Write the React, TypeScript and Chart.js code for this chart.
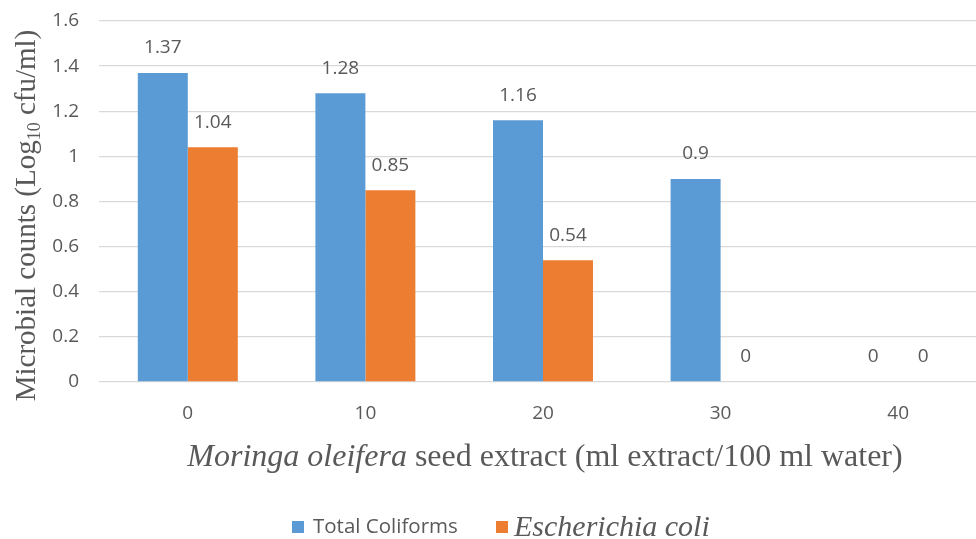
import React, { useEffect, useRef } from "react";
import { Chart, registerables } from "chart.js";

Chart.register(...registerables);

const categories = ["0", "10", "20", "30", "40"];
const totalColiforms = [1.37, 1.28, 1.16, 0.9, 0];
const eColi = [1.04, 0.85, 0.54, 0, 0];
const yTicks = [0, 0.2, 0.4, 0.6, 0.8, 1, 1.2, 1.4, 1.6];

const BLUE = "#5b9bd5";
const ORANGE = "#ed7d31";
const TEXT = "#595959";
const SANS = "'Open Sans', 'Liberation Sans', sans-serif";
const SERIF = "'Liberation Serif', 'DejaVu Serif', serif";

const textPlugin = {
  id: "customText",
  afterDatasetsDraw(chart: any) {
    const ctx = chart.ctx;
    ctx.save();
    ctx.fillStyle = TEXT;
    ctx.font = `19px ${SANS}`;
    ctx.textAlign = "center";
    ctx.textBaseline = "middle";
    chart.data.datasets.forEach((ds: any, di: number) => {
      const meta = chart.getDatasetMeta(di);
      meta.data.forEach((bar: any, i: number) => {
        const v = ds.data[i];
        ctx.fillText(String(v), bar.x, bar.y - 25);
      });
    });
    ctx.restore();
  },
  afterDraw(chart: any) {
    const ctx = chart.ctx;
    const area = chart.chartArea;
    // Y title with subscript
    ctx.save();
    ctx.fillStyle = TEXT;
    ctx.textBaseline = "alphabetic";
    ctx.textAlign = "left";
    const yMain = `29px ${SERIF}`;
    const ySub = `18px ${SERIF}`;
    const p1 = "Microbial counts (Log";
    const p2 = "10";
    const p3 = " cfu/ml)";
    ctx.font = yMain;
    const w1 = ctx.measureText(p1).width;
    const w3 = ctx.measureText(p3).width;
    ctx.font = ySub;
    const w2 = ctx.measureText(p2).width;
    const total = w1 + w2 + w3;
    ctx.translate(35, (area.top + area.bottom) / 2 + 14);
    ctx.rotate(-Math.PI / 2);
    let x = -total / 2;
    ctx.font = yMain;
    ctx.fillText(p1, x, 0);
    x += w1;
    ctx.font = ySub;
    ctx.fillText(p2, x, 5);
    x += w2;
    ctx.font = yMain;
    ctx.fillText(p3, x, 0);
    ctx.restore();

    // X title mixed italic
    ctx.save();
    ctx.fillStyle = TEXT;
    ctx.textBaseline = "alphabetic";
    ctx.textAlign = "left";
    const xi = `italic 32px ${SERIF}`;
    const xn = `32px ${SERIF}`;
    const a = "Moringa oleifera";
    const b = " seed extract (ml extract/100 ml water)";
    ctx.font = xi;
    const wa = ctx.measureText(a).width;
    ctx.font = xn;
    const wb = ctx.measureText(b).width;
    const sx = 545 - (wa + wb) / 2;
    ctx.font = xi;
    ctx.fillText(a, sx, 466);
    ctx.font = xn;
    ctx.fillText(b, sx + wa, 466);
    ctx.restore();

    // Legend
    ctx.save();
    ctx.textBaseline = "middle";
    ctx.textAlign = "left";
    const ly = 527;
    ctx.fillStyle = BLUE;
    ctx.fillRect(292, ly - 6, 12, 12);
    ctx.fillStyle = TEXT;
    ctx.font = `20.5px ${SANS}`;
    ctx.fillText("Total Coliforms", 313, ly);
    ctx.fillStyle = ORANGE;
    ctx.fillRect(496, ly - 6, 12, 12);
    ctx.fillStyle = TEXT;
    ctx.font = `italic 30px ${SERIF}`;
    ctx.fillText("Escherichia coli", 514, ly + 1);
    ctx.restore();
  },
};

export default function App() {
  const ref = useRef<HTMLCanvasElement>(null);
  useEffect(() => {
    const chart = new Chart(ref.current!, {
      type: "bar",
      data: {
        labels: categories,
        datasets: [
          { label: "Total Coliforms", data: totalColiforms, backgroundColor: BLUE, categoryPercentage: 0.563, barPercentage: 1 },
          { label: "Escherichia coli", data: eColi, backgroundColor: ORANGE, categoryPercentage: 0.563, barPercentage: 1 },
        ],
      },
      options: {
        animation: false,
        responsive: false,
        devicePixelRatio: 1,
        layout: { padding: { top: 21, right: 1, left: 0, bottom: 0 } },
        plugins: { legend: { display: false }, tooltip: { enabled: false } },
        scales: {
          x: {
            grid: { display: false, drawTicks: false },
            border: { display: false },
            ticks: { color: TEXT, font: { size: 19, family: SANS }, padding: 20 },
            afterFit: (s: any) => {
              s.height = 157;
              s.paddingLeft = 0;
              s.paddingRight = 0;
              s.paddingTop = 0;
              s.paddingBottom = 0;
            },
          },
          y: {
            min: 0,
            max: 1.6,
            afterBuildTicks: (s: any) => { s.ticks = yTicks.map((v) => ({ value: v })); },
            grid: { color: "#d9d9d9", drawTicks: false, lineWidth: 1.3 },
            border: { display: false },
            ticks: {
              color: TEXT,
              font: { size: 19, family: SANS },
              padding: 20,
              callback: (v: any) => String(Math.round(Number(v) * 10) / 10),
            },
            afterFit: (s: any) => {
              s.width = 99;
              s.paddingTop = 0;
              s.paddingBottom = 0;
              s.paddingLeft = 0;
              s.paddingRight = 0;
            },
          },
        },
      },
      plugins: [textPlugin],
    } as any);
    return () => chart.destroy();
  }, []);
  return (
    <div style={{ position: "fixed", left: 0, top: 0, width: 988, height: 539, background: "#fff" }}>
      <canvas ref={ref} width={988} height={539} style={{ width: 988, height: 539, display: "block" }} />
    </div>
  );
}
